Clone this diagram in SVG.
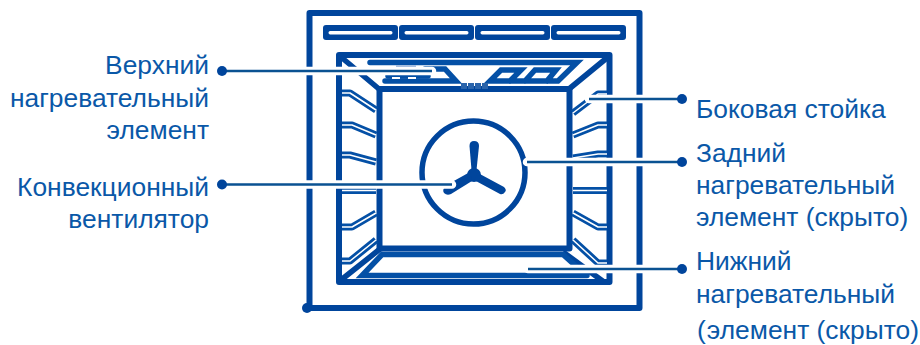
<svg xmlns="http://www.w3.org/2000/svg" width="920" height="345" viewBox="0 0 920 345">
<style>
.t{font-family:"Liberation Sans",Arial,sans-serif;font-size:26.400px;fill:#0a58a8}
.e{text-anchor:end}
.b{fill:none;stroke:#00459c;stroke-width:6;stroke-linejoin:round;stroke-linecap:round}
.m{fill:none;stroke:#00459c;stroke-width:5.500;stroke-linejoin:miter}
.h{fill:none;stroke:#0450a6;stroke-width:5.500;stroke-linejoin:miter;stroke-linecap:round}
.r{fill:none;stroke:#0450a6;stroke-width:7;stroke-linejoin:round}
.w{fill:none;stroke:#fff;stroke-width:1.500;stroke-linejoin:round}
.v{fill:#00459c}
.s{fill:#fff}
.lh{stroke:#fff;stroke-width:8.500;fill:none;stroke-linecap:round}
.ll{stroke:#0a5292;stroke-width:2.600;fill:none}
.d{fill:#00459c}
</style>
<g id="oven">
<path class="b" d="M309.500 308V13H639.500V308H309.500"/>
<circle class="d" cx="307" cy="308" r="5"/>
<rect class="v" x="323" y="25" width="75" height="15" rx="3"/><rect class="s" x="328.500" y="31" width="64" height="3.500" rx="1.700"/>
<rect class="v" x="399" y="25" width="75" height="15" rx="3"/><rect class="s" x="404.500" y="31" width="64" height="3.500" rx="1.700"/>
<rect class="v" x="475" y="25" width="75" height="15" rx="3"/><rect class="s" x="480.500" y="31" width="64" height="3.500" rx="1.700"/>
<rect class="v" x="551" y="25" width="75" height="15" rx="3"/><rect class="s" x="556.500" y="31" width="64" height="3.500" rx="1.700"/>
</g>
<g id="cavity">
<rect class="b" x="339" y="55" width="270.500" height="227"/>
<rect class="b" x="379.500" y="89" width="190" height="159.500" stroke-linejoin="miter"/>
<path class="m" d="M341 57L379 89M608 57L569 89M341 280L380 249M563 252L604 282"/>
</g>
<g id="racks">
<path class="r" d="M342 93H350L376 110M342 125H352L376 135M342 155H350L376 162M342 190.500H376M342 227H352L376 213M342 261H350L376 240"/>
<path class="w" d="M342 93H350L376 110M342 125H352L376 135M342 155H350L376 162M342 190.500H376M342 227H352L376 213M342 261H350L376 240"/>
<path class="r" d="M573 113L598 94H607M573 135L598 125H607M573 158L598 154H607M573 190.500H607M573 213L598 227H607M573 240L598 263H607"/>
<path class="w" d="M573 113L598 94H607M573 135L598 125H607M573 158L598 154H607M573 190.500H607M573 213L598 227H607M573 240L598 263H607"/>
</g>
<g id="top-heater">
<path class="h" d="M370 62.500H577L558 81H490L501 70H521L510 81M525 81L535 70H556L547 81"/>
<path class="h" d="M385 81H456L445 69H425"/>
<path class="h" d="M388 76H428"/>
<path stroke="#fff" stroke-width="2" fill="none" d="M392 78H400M408 78H416"/>
<rect x="396" y="65.500" width="20" height="3" fill="#8aa9d6"/>
<path stroke="#2a64ab" stroke-width="6" stroke-dasharray="6 1" fill="none" d="M461 86H489"/>
</g>
<g id="bottom-heater">
<path class="h" d="M382 254.500H563L578 268M382 254.500L362 275.500H587"/>
</g>
<g id="fan">
<circle cx="473.500" cy="172.500" r="51.500" fill="none" stroke="#00459c" stroke-width="5.500"/>
<circle cx="474" cy="175" r="7" class="v"/>
<path class="v" d="M471.500 170L469.500 146Q469.500 141 474 141Q479 141 479 146L476.500 170Z"/>
<path class="v" d="M478 173L504 187Q507 190 505 192Q503 195 500 194L474 180Z"/>
<path class="v" d="M470 172L452 182L445 187Q442 190 444 193Q447 196 451 194L472 181Z"/>
</g>
<g id="connectors">
<path class="lh" d="M222 71H432M222 184.500H452M682 99H589M682 162H527M682 269H528"/>
<path class="ll" d="M222 71H432M222 184.500H452M682 99H589M682 162H527M682 269H528"/>
<circle class="d" cx="222" cy="71" r="5"/><circle class="d" cx="222" cy="184.500" r="5"/>
<circle class="d" cx="682" cy="99" r="5"/><circle class="d" cx="682" cy="162" r="5"/><circle class="d" cx="682" cy="269" r="5"/>
</g>
<g id="labels">
<text class="t e" x="209" y="74">Верхний</text>
<text class="t e" x="209" y="107">нагревательный</text>
<text class="t e" x="209" y="139">элемент</text>
<text class="t e" x="209" y="196">Конвекционный</text>
<text class="t e" x="209" y="228">вентилятор</text>
<text class="t" x="696" y="118">Боковая стойка</text>
<text class="t" x="696" y="162">Задний</text>
<text class="t" x="696" y="194">нагревательный</text>
<text class="t" x="696" y="226">элемент (скрыто)</text>
<text class="t" x="696" y="270">Нижний</text>
<text class="t" x="696" y="303">нагревательный</text>
<text class="t" x="697" y="339">(<tspan dx="1">элемент (скрыто)</tspan></text>
</g>
</svg>
